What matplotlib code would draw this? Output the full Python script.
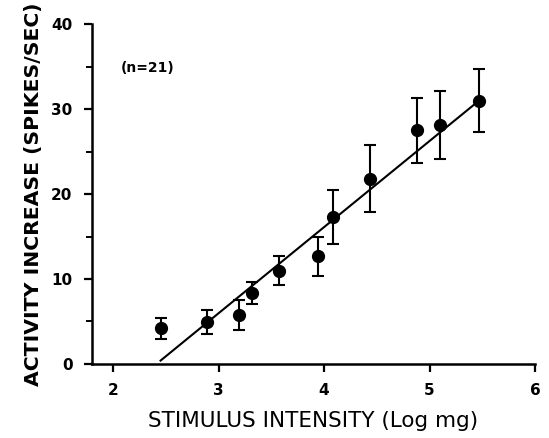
import matplotlib
matplotlib.use("Agg")
import matplotlib.pyplot as plt
from matplotlib.ticker import MultipleLocator

# Data
log_intensity = [2.45, 2.89, 3.19, 3.32, 3.57, 3.94, 4.08, 4.44, 4.88, 5.10, 5.47]
activity = [4.2, 4.9, 5.8, 8.4, 11.0, 12.7, 17.3, 21.8, 27.5, 28.1, 31.0]
sem = [1.25, 1.4, 1.75, 1.3, 1.65, 2.3, 3.15, 3.95, 3.85, 4.0, 3.7]
fit_x = [2.45, 5.42]
fit_y = [0.4, 30.5]
x_ticks = [2, 3, 4, 5, 6]
y_ticks = [0, 10, 20, 30, 40]

plt.rcParams['font.family'] = ['DejaVu Sans']

fig = plt.figure(figsize=(5.49, 4.38), dpi=100)
ax = fig.add_axes([0.1676, 0.169, 0.807, 0.776])

ax.errorbar(log_intensity, activity, yerr=sem, fmt='o', color='black',
            markersize=8.5, capsize=4.5, elinewidth=1.5, capthick=1.5)
ax.plot(fit_x, fit_y, color='black', linewidth=1.5)

ax.set_xlim(1.8, 6)
ax.set_ylim(0, 40)
ax.set_xticks(x_ticks)
ax.set_yticks(y_ticks)
ax.yaxis.set_minor_locator(MultipleLocator(5))
ax.spines['top'].set_visible(False)
ax.spines['right'].set_visible(False)
for s in ['left', 'bottom']:
    ax.spines[s].set_linewidth(1.8)
ax.tick_params(axis='both', which='major', direction='out', length=6, width=1.6,
               labelsize=11, pad=8)
ax.tick_params(axis='y', which='minor', direction='out', length=4, width=1.4)
for lbl in ax.get_xticklabels() + ax.get_yticklabels():
    lbl.set_fontweight('bold')

ax.set_xlabel('STIMULUS INTENSITY (Log mg)', fontsize=15.5, labelpad=9)
ax.set_ylabel('ACTIVITY INCREASE (SPIKES/SEC)', fontsize=14.7, fontweight='bold', labelpad=6)

ax.text(2.07, 34.8, '(n=21)', fontsize=10, fontweight='bold', ha='left', va='center')

fig.savefig('out.png', dpi=100)
